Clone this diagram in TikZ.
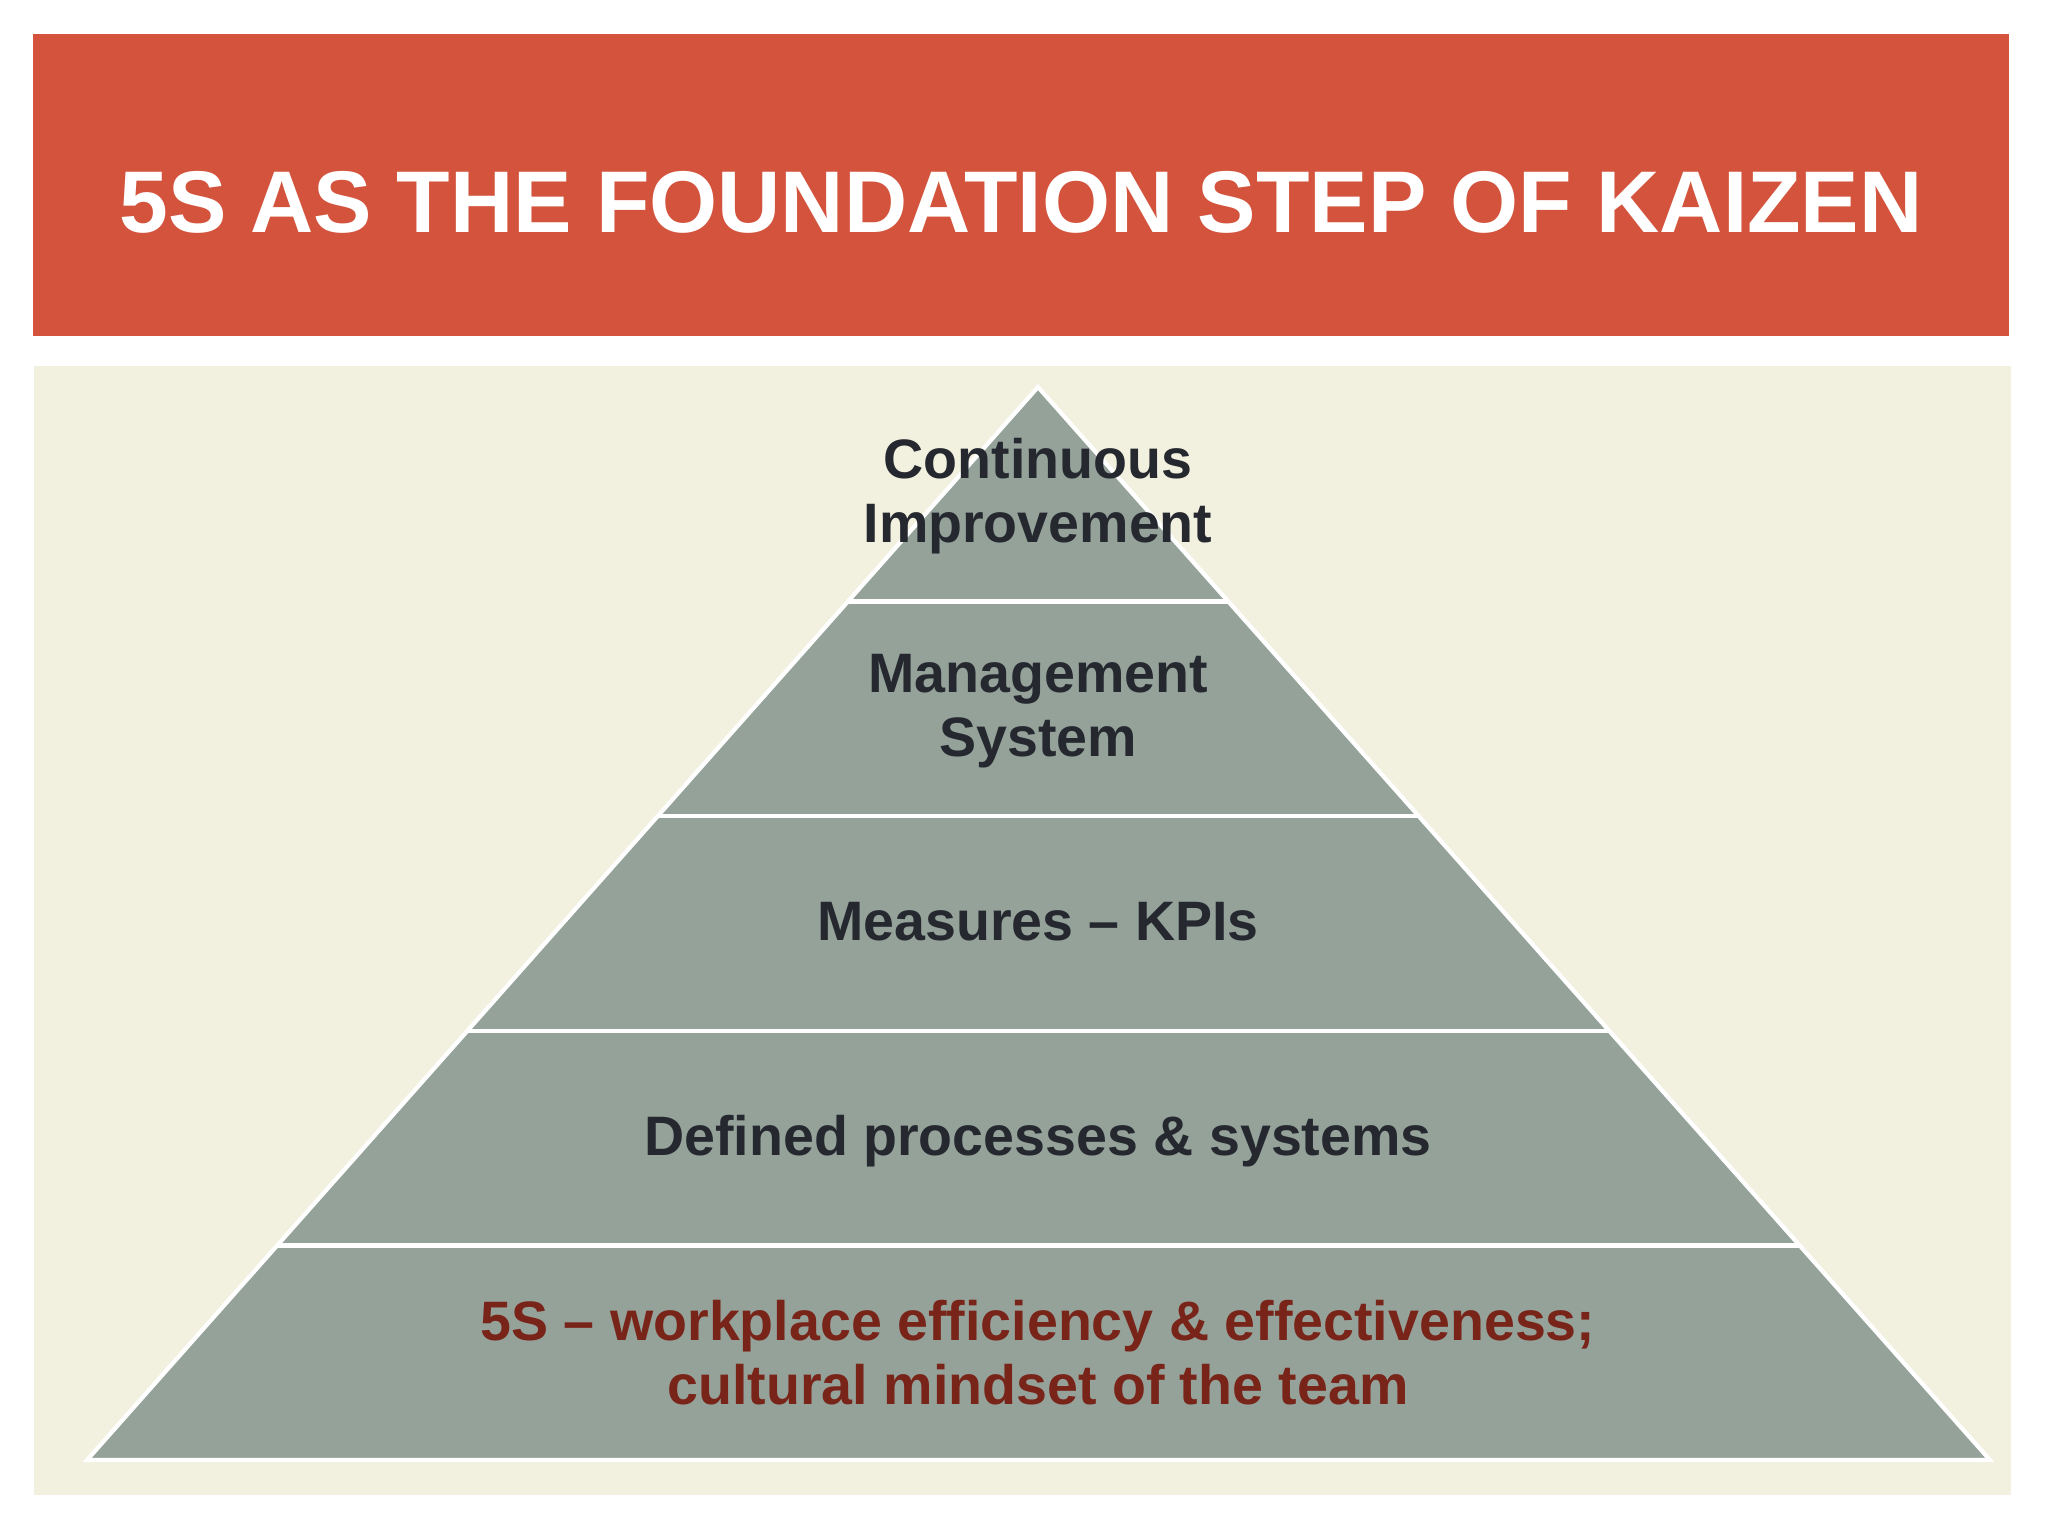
\documentclass[tikz,border=0pt]{standalone}
\usepackage{fontspec}
\setmainfont{Liberation Sans}
\usetikzlibrary{positioning,calc}

\definecolor{titlered}{HTML}{D3533C}
\definecolor{panelbg}{HTML}{F2F0DE}
\definecolor{pyrgray}{HTML}{95A29A}
\definecolor{textdark}{HTML}{25282F}
\definecolor{textred}{HTML}{782419}

\begin{document}
\begin{tikzpicture}[x=0.01cm, y=-0.01cm,
title bar/.style={fill=titlered, minimum width=19.74cm, minimum height=3.01cm, inner sep=0pt},
title text/.style={text=white, inner sep=0pt, font=\fontsize{24.9pt}{30pt}\selectfont\bfseries},
layer line/.style={draw=white, line width=1.2pt},
layer label/.style={align=center, text=textdark, inner sep=0pt,
  font=\fontsize{15.8pt}{18.2pt}\selectfont\bfseries}]

\useasboundingbox (0,0) rectangle (2048,1536);
\fill[white] (0,0) rectangle (2048,1536);

% title
\node[title bar] (title) at (1021,185) {};
\node[title text] (titletext) at (1021,202) {5S AS THE FOUNDATION STEP OF KAIZEN};

% panel behind the pyramid
\fill[panelbg] (34,366) rectangle (2011,1495);

% pyramid
\coordinate (apex) at (1038,387);
\coordinate (bl) at (87,1460);
\coordinate (br) at (1990,1460);
\filldraw[fill=pyrgray, layer line, line join=miter] (apex) -- (bl) -- (br) -- cycle;

\foreach \t [count=\i] in {0.2,0.4,0.6,0.8}
\draw[layer line] ($(apex)!\t!(bl)$) coordinate (l\i) -- ($(apex)!\t!(br)$) coordinate (r\i);

% labels
\node[layer label] (ci) at (1038,496) {Continuous\\Improvement};
\node[layer label] (ms) at (1038,711) {Management\\System};
\node[layer label] (kpi) at (1038,922) {Measures -- KPIs};
\node[layer label] (dps) at (1038,1141) {Defined processes \& systems};
\node[layer label, text=textred] (fives) at (1038,1353) {5S -- workplace efficiency \& effectiveness;\\cultural mindset of the team};
\end{tikzpicture}
\end{document}
